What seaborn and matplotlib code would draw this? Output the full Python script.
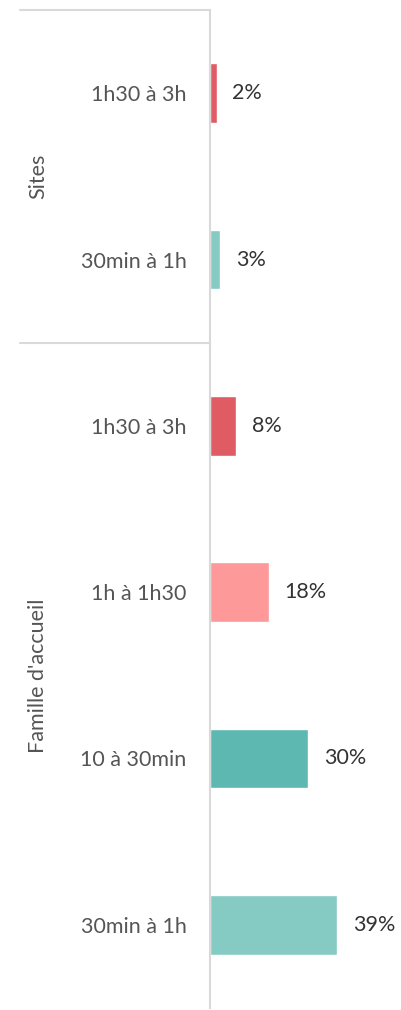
import matplotlib
matplotlib.use("Agg")
import matplotlib.pyplot as plt
import pandas as pd
import seaborn as sns

groups = ["Sites", "Sites", "Famille d'accueil", "Famille d'accueil",
          "Famille d'accueil", "Famille d'accueil"]
durations = ["1h30 à 3h", "30min à 1h", "1h30 à 3h", "1h à 1h30",
             "10 à 30min", "30min à 1h"]
values = [2, 3, 8, 18, 30, 39]
colors = ["#E05C65", "#86CAC4", "#E05C65", "#FD9999", "#5DB8B2", "#86CAC4"]

df = pd.DataFrame({"row": [f"{g}|{d}" for g, d in zip(groups, durations)],
                   "pct": values})

sns.set_theme(style="white")
plt.rcParams["font.family"] = ["Lato", "DejaVu Sans"]

W, H = 402, 1010
fig = plt.figure(figsize=(W / 100, H / 100), dpi=100)
ax = fig.add_axes([210 / W, 2 / H, 190 / W, 998 / H])

sns.barplot(data=df, x="pct", y="row", hue="row", palette=colors,
            orient="h", width=0.36, legend=False, saturation=1, ax=ax)

ax.set_xlim(0, 190 / 3.26)
ax.set_ylim(5.5, -0.5)
ax.set_xlabel("")
ax.set_ylabel("")
ax.set_xticks([])
ax.set_yticks(range(len(durations)))
ax.set_yticklabels(durations, fontsize=15.5, color="#555555")
ax.tick_params(axis="y", length=0, pad=17)

for s in ["top", "right", "bottom"]:
    ax.spines[s].set_visible(False)
ax.spines["left"].set_color("#d9d9d9")
ax.spines["left"].set_linewidth(1.5)

for i, v in enumerate(values):
    ax.annotate(f"{v}%", (v, i), xytext=(11.5, 0), textcoords="offset points",
                va="center", ha="left", fontsize=15.5, color="#333333")

# group separators and labels
tr = ax.get_yaxis_transform()
for yy in [-0.5, 1.5]:
    ax.plot([-1.0, 0], [yy, yy], transform=tr, color="#d9d9d9", lw=1.5,
            clip_on=False)

group_names = ["Sites", "Famille d'accueil"]
group_centers = [0.5, 3.5]
for name, yc in zip(group_names, group_centers):
    ax.text(-0.905, yc, name, transform=tr, rotation=90, ha="center",
            va="center", fontsize=15.5, color="#555555")

fig.savefig("out.png", dpi=100)
